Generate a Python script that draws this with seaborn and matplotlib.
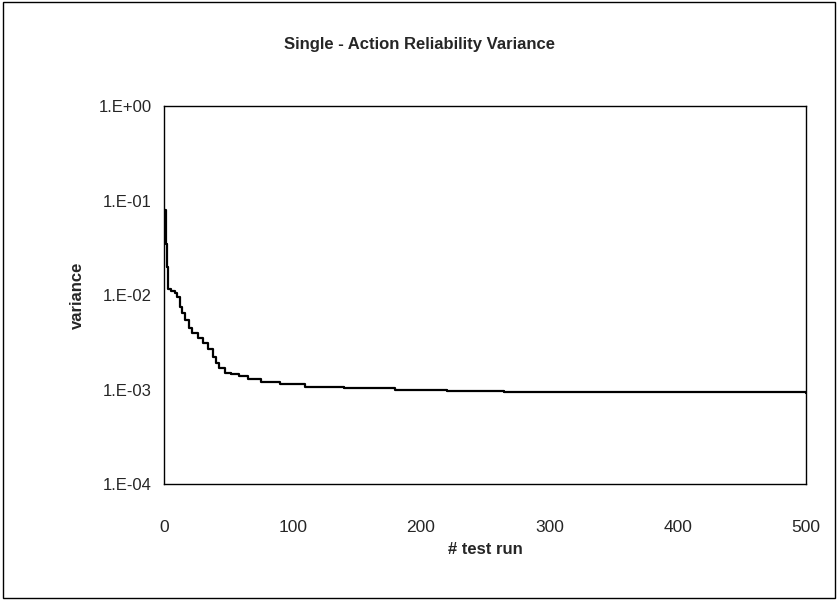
import numpy as np
import pandas as pd
import matplotlib
matplotlib.use("Agg")
import matplotlib.pyplot as plt
import matplotlib.ticker as mticker
import seaborn as sns

sns.set_style("white")
plt.rcParams["font.family"] = ["Liberation Sans", "DejaVu Sans"]

# values (step curve)
test_run = [0, 1, 2, 3, 5, 8, 10, 12, 14, 16, 19, 22, 26, 30, 34, 38, 40, 43,
            47, 52, 58, 65, 75, 90, 110, 140, 180, 220, 265, 350, 500]
variance = [0.08, 0.035, 0.02, 0.0115, 0.011, 0.0105, 0.0095, 0.0075, 0.0065,
            0.0055, 0.0045, 0.0040, 0.0035, 0.0031, 0.0027, 0.0022, 0.0019,
            0.0017, 0.0015, 0.00145, 0.0014, 0.0013, 0.00122, 0.00115,
            0.00108, 0.00103, 0.00099, 0.00097, 0.00094, 0.00094, 0.00093]
y_ticks = [1e-4, 1e-3, 1e-2, 1e-1, 1e0]
y_tick_labels = ["1.E-04", "1.E-03", "1.E-02", "1.E-01", "1.E+00"]
x_ticks = [0, 100, 200, 300, 400, 500]

df = pd.DataFrame({"run": test_run, "variance": variance})

fig = plt.figure(figsize=(8.38, 6), dpi=100)
ax = fig.add_axes([0.196, 0.193, 0.766, 0.630])

sns.lineplot(data=df, x="run", y="variance", ax=ax, color="black",
             linewidth=1.6, drawstyle="steps-post")

ax.set_yscale("log")
ax.set_ylim(1e-4, 1)
ax.set_xlim(0, 500)
ax.set_yticks(y_ticks)
ax.set_yticklabels(y_tick_labels)
ax.yaxis.set_minor_locator(mticker.NullLocator())
ax.set_xticks(x_ticks)

for s in ax.spines.values():
    s.set_color("black")
    s.set_linewidth(1.0)

ax.tick_params(axis="y", direction="out", length=5, width=1, labelsize=12, pad=4)
ax.tick_params(axis="x", direction="out", length=0, labelsize=12.5, pad=26)

ax.set_xlabel("# test run", fontsize=12, fontweight="bold", labelpad=5)
ax.set_ylabel("variance", fontsize=12, fontweight="bold", labelpad=10)
fig.text(0.5, 0.925, "Single - Action Reliability Variance", ha="center",
         va="center", fontsize=12, fontweight="bold")

# frame around the whole chart area
fig.patches.append(plt.Rectangle((0.003, 0.003), 0.994, 0.994,
                                 transform=fig.transFigure, fill=False,
                                 edgecolor="black", linewidth=1.0))

fig.savefig("out.png", dpi=100)
